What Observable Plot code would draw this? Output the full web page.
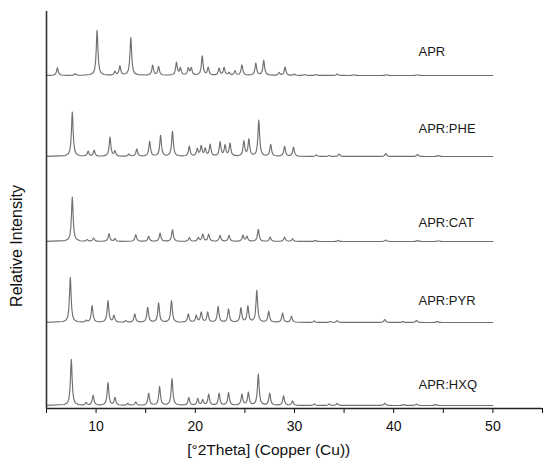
<!DOCTYPE html>
<html><head><meta charset="utf-8">
<script src="https://cdn.jsdelivr.net/npm/d3@7"></script>
<script src="https://cdn.jsdelivr.net/npm/@observablehq/plot@0.6"></script>
<style>body{margin:0;background:#fff;font-family:"Liberation Sans",Arial,sans-serif}</style>
</head><body><div id="chart"></div>
<script>
// Sample names and stacking offsets (relative-intensity units)
const sampleNames = ["APR", "APR:PHE", "APR:CAT", "APR:PYR", "APR:HXQ"];
const sampleOffsets = [333, 252, 167, 86, 3];
const labelLevels = [357, 280, 186, 108, 24];

// Peaks: [2θ position, height]
const aprPeaks = [[6.1,7.7],[7.9,1.7],[10.1,45],[11.9,3.7],[12.4,9.3],[13.5,37.7],[15.7,10],[16.3,8.7],[18.1,12.7],[18.5,7],[19.3,7],[19.6,7],[20.7,19.3],[21.3,7.7],[22.4,7],[22.9,7.7],[23.4,2.7],[24.0,4.3],[24.7,10.3],[26.1,12],[26.9,15],[28.45,2.7],[29.05,8.3],[30.0,1.2],[31.0,1],[32.2,1],[34.3,1.5],[36.0,0.8],[39.3,0.8],[42.4,0.8]];
const phePeaks = [[7.6,44.3],[9.2,5],[9.8,6],[11.4,19],[11.9,5],[13.3,2.3],[14.1,7.3],[15.4,15],[16.5,20.7],[17.7,25],[19.4,10],[20.2,7.3],[20.6,10],[21.0,7.3],[21.5,11.7],[22.5,14],[23.0,10.7],[23.5,12.7],[24.9,15],[25.4,16.7],[26.4,36],[27.6,11.7],[29.0,10],[29.9,9.3],[32.2,1.5],[33.5,1],[34.5,2.5],[39.2,3],[42.4,2],[44.5,1]];
const catPeaks = [[7.6,44.3],[9.1,1.7],[9.75,3.3],[11.3,7.7],[11.9,2.7],[14.0,6.7],[15.3,5],[16.45,8.3],[17.7,11.7],[19.4,3.7],[20.3,3.7],[20.75,7],[21.35,7],[22.5,6],[23.4,6],[24.8,6],[25.2,5],[26.35,12],[27.55,4.3],[29.0,4.3],[29.8,2.7],[32.1,1],[34.4,1.2],[39.2,1.5],[42.4,1],[44.5,0.8]];
const pyrPeaks = [[7.4,45],[9.0,1.7],[9.6,16.7],[11.2,21.7],[11.8,6.7],[13.0,1.7],[13.9,8.3],[15.2,15],[16.3,19.3],[17.6,21.7],[19.3,8.3],[20.1,6.7],[20.6,10],[21.25,10],[22.3,15.7],[23.35,13.3],[24.6,14.3],[25.3,16],[26.2,31.7],[27.4,11],[28.8,9.3],[29.7,6],[32.0,1.5],[33.6,1],[34.3,1.8],[39.1,3],[40.9,1],[42.3,2],[44.4,1]];
const hxqPeaks = [[7.5,46],[9.0,2.7],[9.7,10],[11.2,22.7],[11.9,7.7],[13.2,2],[14.0,3.3],[15.3,12],[16.4,18.7],[17.65,26.7],[19.35,7.7],[20.25,6.7],[20.75,5.3],[21.35,11],[22.4,12],[23.35,12.7],[24.7,11],[25.35,12.7],[26.35,31],[27.5,12],[28.9,9.5],[29.8,4.5],[32.0,1.5],[33.5,1.5],[34.3,2],[39.1,2.2],[41.0,1],[42.3,1.5],[44.2,1]];
const allPeaks = [aprPeaks, phePeaks, catPeaks, pyrPeaks, hxqPeaks];

// 2θ range and axis ticks
const thetaRange = [5, 50];
const xTicks = [5, 10, 15, 20, 25, 30, 35, 40, 45, 50, 55];
const xTickLabels = [10, 20, 30, 40, 50];

// Build each pattern as a line through the read peaks (narrow peak profile)
const halfWidth = 0.1;
const steps = [-0.7, -0.4, -0.25, -0.15, -0.08, -0.035, 0, 0.035, 0.08, 0.15, 0.25, 0.4, 0.7];
const rows = [];
sampleNames.forEach((name, i) => {
  const peaks = allPeaks[i];
  const xs = new Set(thetaRange);
  for (const [p] of peaks) for (const s of steps) {
    const x = +(p + s).toFixed(3);
    if (x >= thetaRange[0] && x <= thetaRange[1]) xs.add(x);
  }
  [...xs].sort((a, b) => a - b).forEach(x => {
    let v = 0;
    for (const [p, h] of peaks) v += h / (1 + ((x - p) / halfWidth) ** 2);
    rows.push({name, theta: x, intensity: sampleOffsets[i] + v});
  });
});
const labels = sampleNames.map((name, i) => ({name, theta: 42.5, level: labelLevels[i]}));

const chart = Plot.plot({
  width: 550,
  height: 469,
  marginLeft: 46,
  marginRight: 8,
  marginTop: 11,
  marginBottom: 61,
  style: {fontFamily: "'Liberation Sans', Arial, sans-serif", fontSize: "13px", color: "#111", background: "#fff"},
  x: {domain: [5, 55]},
  y: {domain: [0, 397], axis: null},
  marks: [
    Plot.line(rows, {x: "theta", y: "intensity", z: "name", stroke: "#707070", strokeWidth: 1.15}),
    Plot.text(labels, {x: "theta", y: "level", text: "name", textAnchor: "start", fontSize: 13, fill: "#1a1a1a"}),
    Plot.axisX({ticks: xTicks, tickSize: 5, tickPadding: 8, tickFormat: d => xTickLabels.includes(d) ? String(d) : "", label: null, fontSize: 14}),
    Plot.ruleY([0], {stroke: "#222", strokeWidth: 1.5}),
    Plot.ruleX([5], {stroke: "#333", strokeWidth: 1.6}),
    Plot.text(["[°2Theta] (Copper (Cu))"], {x: 27.4, frameAnchor: "bottom", dy: 46, fontSize: 15.5, fill: "#111"}),
    Plot.text(["Relative Intensity"], {frameAnchor: "left", textAnchor: "middle", dx: -30, dy: 36, rotate: -90, fontSize: 16, fill: "#111"})
  ]
});
document.getElementById("chart").append(chart);
</script>
</body></html>
